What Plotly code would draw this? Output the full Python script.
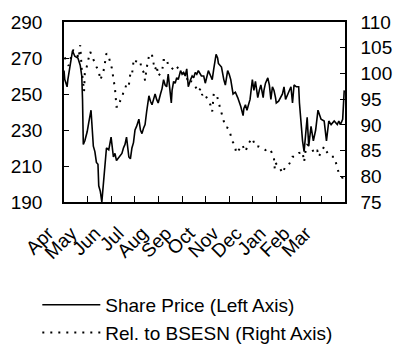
import pandas as pd
import plotly.graph_objects as go

START = "2008-04-01"
END = "2009-03-31"

# Share price (left axis): day offsets from START and values
price_days = [0, 1, 4, 5, 8, 11, 14, 18, 21, 23, 24, 25, 27, 30, 32, 35, 38, 40, 42, 44,
              45, 47, 49, 51, 53, 55, 58, 61, 64, 66, 68, 71, 73, 75, 77, 79, 81, 84, 86, 88,
              90, 92, 94, 97, 99, 101, 103, 105, 107, 110, 112, 114, 116, 118, 120, 122, 125, 127, 129, 131,
              133, 135, 139, 140, 142, 144, 146, 148, 151, 153, 155, 157, 159, 161, 164, 166, 168, 170, 172, 174,
              178, 181, 183, 185, 187, 190, 192, 194, 197, 199, 200, 204, 205, 207, 209, 212, 214, 216, 219, 222,
              225, 227, 229, 232, 233, 235, 237, 239, 241, 244, 246, 248, 251, 253, 255, 258, 259, 261, 264, 266,
              268, 270, 272, 274, 275, 278, 281, 283, 285, 287, 290, 292, 294, 296, 298, 301, 304, 305, 307, 309,
              311, 313, 315, 317, 320, 323, 326, 329, 332, 333, 337, 340, 343, 346, 350, 352, 354, 356, 358, 361,
              363]
price_vals = [263, 258, 254, 258, 266, 274, 271, 270, 266, 260, 247, 222, 224, 229, 234, 241, 221, 218, 212, 211,
              199, 196, 190, 200, 206, 220, 219, 226, 215, 217, 213, 215, 216, 217, 220, 222, 226, 215, 214, 220,
              223, 230, 232, 236, 230, 228, 231, 233, 240, 249, 246, 244, 247, 250, 247, 245, 250, 253, 258, 255,
              254, 261, 245, 252, 257, 256, 259, 258, 263, 261, 262, 260, 264, 254, 258, 260, 259, 262, 261, 263,
              260, 260, 256, 260, 263, 260, 258, 264, 272, 270, 267, 265, 262, 258, 255, 263, 261, 258, 250, 251,
              248, 246, 243, 238, 242, 244, 241, 244, 247, 258, 252, 257, 248, 252, 255, 248, 252, 256, 259, 255,
              247, 254, 252, 248, 245, 246, 248, 250, 254, 247, 250, 252, 254, 245, 255, 254, 254, 245, 234, 224,
              218, 230, 237, 221, 232, 224, 230, 241, 238, 236, 235, 224, 235, 233, 235, 234, 233, 235, 233, 236,
              252]

# Relative to BSESN (right axis)
rel_days = [1, 4, 6, 8, 10, 12, 16, 19, 21, 23, 25, 26, 27, 29, 32, 34, 36, 38, 40, 42,
            45, 47, 49, 51, 53, 55, 58, 60, 62, 64, 66, 68, 71, 73, 75, 77, 79, 81, 84, 86,
            88, 90, 92, 94, 97, 99, 101, 103, 105, 107, 110, 112, 114, 116, 118, 120, 122, 125, 127, 129,
            131, 133, 135, 138, 140, 142, 144, 146, 148, 151, 153, 155, 157, 159, 161, 164, 166, 168, 170, 172,
            174, 177, 179, 181, 183, 185, 187, 190, 192, 194, 196, 198, 200, 203, 205, 206, 208, 209, 211, 213,
            215, 217, 218, 220, 222, 223, 226, 228, 229, 231, 233, 235, 237, 239, 242, 244, 246, 248, 250, 252,
            255, 257, 259, 261, 263, 265, 268, 270, 272, 273, 274, 276, 278, 281, 283, 285, 287, 289, 291, 294,
            296, 298, 300, 302, 304, 307, 309, 311, 313, 315, 317, 320, 322, 324, 326, 328, 330, 333, 335, 337,
            339, 341, 343, 346, 348, 350, 352, 354, 356, 359, 361, 363]
rel_vals = [103.1, 102.3, 101.5, 102.5, 103.9, 104.5, 104.2, 102.9, 105.5, 100.7, 98.5, 96.5, 100.2, 101.0, 103.0, 104.2, 103.5, 102.6, 102.0, 101.3,
            100.5, 98.7, 99.5, 100.3, 102.0, 103.9, 103.2, 102.3, 101.0, 99.0, 97.1, 93.5, 93.5, 94.8, 95.2, 96.4, 96.8, 98.1, 97.7, 100.0,
            99.7, 102.3, 101.8, 102.6, 102.5, 102.0, 100.7, 100.3, 98.6, 101.0, 103.3, 103.0, 103.6, 102.0, 100.7, 101.6, 99.5, 100.0, 100.3, 102.6,
            102.6, 102.9, 101.5, 101.3, 101.0, 100.7, 101.3, 101.3, 101.0, 100.7, 100.3, 100.0, 100.0, 99.3, 98.1, 98.5, 98.4, 98.0, 97.4, 97.0,
            96.4, 97.1, 95.8, 96.2, 95.8, 95.2, 94.8, 93.8, 92.6, 96.1, 96.0, 95.8, 94.5, 92.9, 92.0, 91.3, 90.3, 89.6, 89.5, 89.3,
            88.5, 87.4, 86.8, 86.4, 85.5, 84.5, 85.0, 85.4, 85.6, 86.1, 85.4, 84.8, 85.6, 86.4, 87.0, 87.4, 86.6, 85.8, 85.8, 85.8,
            85.6, 85.4, 85.2, 85.1, 85.3, 85.4, 85.0, 84.1, 83.5, 81.5, 82.6, 82.2, 81.9, 81.2, 80.6, 81.3, 81.9, 82.0, 82.2, 83.0,
            83.8, 83.8, 83.8, 84.2, 84.5, 84.6, 84.8, 82.8, 85.0, 86.1, 86.0, 85.8, 85.1, 84.5, 84.8, 85.1, 83.8, 84.8, 85.3, 85.8,
            85.1, 84.5, 84.1, 83.8, 83.8, 83.8, 82.8, 81.9, 80.6, 80.2, 79.6, 80.6]

month_labels = ["Apr", "May", "Jun", "Jul", "Aug", "Sep", "Oct", "Nov", "Dec", "Jan", "Feb", "Mar"]
left_ticks = [190, 210, 230, 250, 270, 290]
right_ticks = [75, 80, 85, 90, 95, 100, 105, 110]

start = pd.Timestamp(START)
price_dates = [start + pd.Timedelta(days=d) for d in price_days]
rel_dates = [start + pd.Timedelta(days=d) for d in rel_days]
month_starts = pd.date_range(START, periods=12, freq="MS")

FONT = "Liberation Sans, Arial, sans-serif"

fig = go.Figure()
fig.add_trace(go.Scatter(x=price_dates, y=price_vals, mode="lines",
                         name="Share Price (Left Axis)",
                         line=dict(color="black", width=1.6)))
fig.add_trace(go.Scatter(x=rel_dates, y=rel_vals, mode="lines", yaxis="y2",
                         name="Rel. to BSESN (Right Axis)",
                         line=dict(color="black", width=2, dash="2px,6px")))

fig.update_layout(
    width=399, height=345,
    margin=dict(l=64, r=54, t=22, b=143, autoexpand=False),
    paper_bgcolor="white", plot_bgcolor="white",
    font=dict(family=FONT, size=19, color="black"),
    showlegend=True,
    legend=dict(x=-0.095, y=-0.466, xanchor="left", yanchor="top",
                orientation="v", itemwidth=58, font=dict(size=19),
                bgcolor="rgba(0,0,0,0)"),
    xaxis=dict(type="date", range=[START, END], tickvals=month_starts, ticktext=month_labels,
               tickangle=-45, ticks="inside", ticklen=6, tickcolor="black",
               showline=True, linecolor="black", linewidth=1.5, mirror=True,
               showgrid=False, zeroline=False, ticklabelshift=-16, ticklabelstandoff=11,
               tickfont=dict(size=19), automargin=False),
    yaxis=dict(range=[190, 290], tickvals=left_ticks, ticks="inside", ticklen=5,
               tickcolor="black", showline=True, linecolor="black", linewidth=1.5,
               mirror=True, showgrid=False, zeroline=False, ticklabelstandoff=16,
               tickfont=dict(size=19), automargin=False),
    yaxis2=dict(range=[75, 110], tickvals=right_ticks, overlaying="y", side="right",
                ticks="inside", ticklen=5, tickcolor="black", showline=True,
                linecolor="black", linewidth=1.5, showgrid=False, zeroline=False,
                ticklabelstandoff=10, tickfont=dict(size=19), automargin=False),
)

fig.write_html("out.html", config={"displayModeBar": False},
               post_script="document.body.style.margin='0';")
